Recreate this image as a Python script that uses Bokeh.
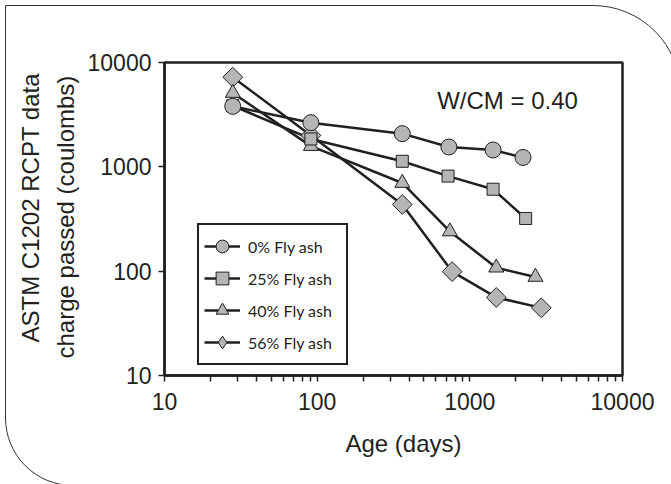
import math
from bokeh.plotting import figure
from bokeh.models import (FixedTicker, NumeralTickFormatter, Label, Legend,
                          LegendItem, InlineStyleSheet, Title)
from bokeh.embed import file_html
from bokeh.resources import INLINE

# ---- data ----
age_0 = [28, 91, 361, 729, 1420, 2230]
charge_0 = [3800, 2650, 2080, 1550, 1450, 1230]

age_25 = [28, 91, 361, 720, 1420, 2320]
charge_25 = [3850, 1850, 1130, 815, 610, 320]

age_40 = [28, 91, 361, 740, 1490, 2690]
charge_40 = [5100, 1580, 700, 240, 108, 88]

age_56 = [28, 91, 361, 766, 1490, 2940]
charge_56 = [7230, 2000, 436, 99, 56, 44.5]

series_labels = ["0% Fly ash", "25% Fly ash", "40% Fly ash", "56% Fly ash"]
x_ticks = [10, 100, 1000, 10000]
y_ticks = [10, 100, 1000, 10000]
x_title = "Age (days)"
y_title_1 = "ASTM C1202 RCPT data"
y_title_2 = "charge passed (coulombs)"
note = "W/CM = 0.40"

INK = "#231f20"
FILL = "#b5b5b5"
AXIS_FONT = "Liberation Sans"

p = figure(width=671, height=484, x_axis_type="log", y_axis_type="log",
           x_range=(10, 10000), y_range=(10, 10000),
           output_backend="svg", toolbar_location=None,
           min_border_left=164, min_border_right=49,
           min_border_top=62, min_border_bottom=109)
p.background_fill_color = "white"
p.border_fill_color = "white"
p.border_fill_alpha = 0
p.xgrid.visible = False
p.ygrid.visible = False
p.outline_line_color = INK
p.outline_line_width = 2.5

minor_x = [m * 10 ** e for e in (1, 2, 3) for m in range(2, 10)]
p.xaxis.ticker = FixedTicker(ticks=x_ticks, minor_ticks=minor_x)
p.yaxis.ticker = FixedTicker(ticks=y_ticks, minor_ticks=[])
for ax in (p.xaxis, p.yaxis):
    ax.formatter = NumeralTickFormatter(format="0")
    ax.axis_line_color = INK
    ax.axis_line_width = 2.5
    ax.major_tick_line_color = INK
    ax.major_tick_line_width = 1.5
    ax.minor_tick_line_color = INK
    ax.minor_tick_line_width = 1.5
    ax.major_tick_in = 0
    ax.major_tick_out = 6
    ax.minor_tick_in = 0
    ax.major_label_text_font = AXIS_FONT
    ax.major_label_text_font_size = "23px"
    ax.major_label_text_color = INK
p.xaxis.minor_tick_out = 6
p.yaxis.minor_tick_out = 0
p.yaxis.major_label_standoff = 7
p.xaxis.major_label_standoff = 11


def title(text, standoff, offset):
    return Title(text=text, align="left", offset=offset, standoff=standoff,
                 text_font=AXIS_FONT, text_font_size="24px",
                 text_font_style="normal", text_color=INK)


p.add_layout(title(x_title, 31, 181), "below")
p.add_layout(title(y_title_2, 12, 17), "left")
p.add_layout(title(y_title_1, 0, 33), "left")

ages = [age_0, age_25, age_40, age_56]
charges = [charge_0, charge_25, charge_40, charge_56]
markers = ["circle", "square", "triangle", "square"]
sizes = [16, 12, 15, 14]
angles = [0, 0, 0, math.pi / 4]

line_rs = []
for a, c in zip(ages, charges):
    line_rs.append(p.line(a, c, line_color=INK, line_width=2.5))

scatter_rs = [None] * 4
for i in [3, 2, 1, 0]:
    scatter_rs[i] = p.scatter(ages[i], charges[i], marker=markers[i],
                              size=sizes[i], angle=angles[i],
                              fill_color=FILL, line_color=INK, line_width=1)

# legend swatch for the diamond series (legend markers are never rotated)
diamond_key = p.scatter([float("nan")], [float("nan")], marker="diamond", size=14,
                        fill_color=FILL, line_color=INK, line_width=1)
legend_marks = [scatter_rs[0], scatter_rs[1], scatter_rs[2], diamond_key]

items = [LegendItem(label=series_labels[i], renderers=[line_rs[i], legend_marks[i]])
         for i in range(4)]
legend = Legend(items=items, location=(33, 10))
legend.padding = 5
legend.spacing = 0
legend.margin = 0
legend.glyph_height = 32
legend.glyph_width = 36
legend.label_standoff = 8
legend.label_width = 93
legend.label_text_font = "Lato"
legend.label_text_font_size = "16px"
legend.label_text_color = INK
legend.border_line_color = INK
legend.border_line_alpha = 1
legend.border_line_width = 2
legend.background_fill_color = "white"
legend.background_fill_alpha = 1
p.add_layout(legend, "center")

p.add_layout(Label(x=436.7, y=100, x_units="canvas", y_units="canvas", text=note,
                   text_font=AXIS_FONT, text_font_size="24px", text_color=INK,
                   text_align="left", text_baseline="alphabetic"))

# rounded outer frame drawn around the whole picture
p.stylesheets = [InlineStyleSheet(css="""
:host { overflow: hidden; position: relative; }
:host::after {
  content: ""; position: absolute; left: 5px; top: 5px;
  width: 676px; height: 481px; box-sizing: border-box;
  border: 1.5px solid #333333; border-radius: 0 88px 0 68px;
  pointer-events: none; z-index: 10;
}
""")]

open("out.html", "w").write(file_html(p, INLINE))
